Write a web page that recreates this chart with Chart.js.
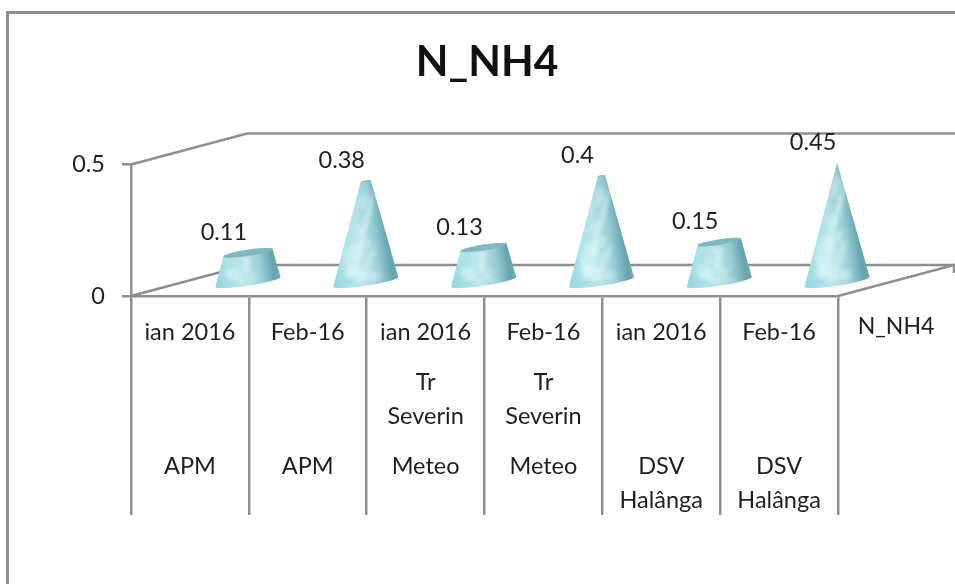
<!DOCTYPE html>
<html>
<head>
<meta charset="utf-8">
<style>html,body{margin:0;padding:0;background:#fff}canvas{display:block}</style>
<script src="https://cdn.jsdelivr.net/npm/chart.js@4"></script>
</head>
<body>
<canvas id="c" width="955" height="584"></canvas>
<script>
const chartTitle = 'N_NH4';
const seriesName = 'N_NH4';
const dates = ['ian 2016','Feb-16','ian 2016','Feb-16','ian 2016','Feb-16'];
const stationLine1 = ['','','Tr','Tr','',''];
const stationLine2 = ['','','Severin','Severin','',''];
const placeLine1 = ['APM','APM','Meteo','Meteo','DSV','DSV'];
const placeLine2 = ['','','','','Halânga','Halânga'];
const values = [0.11,0.38,0.13,0.4,0.15,0.45];
const yTicks = [0,0.5];

const FONT = 'Lato';
const TEXT = '#1f1f1f';
const LINE = '#8e8e8e';
const DX = 116, DY = -31;        // depth of the 3D box
const RX = 33, RY = 3.6;         // cone base ellipse
const ROT = -8.7*Math.PI/180;

const labels = dates.map((d,i)=>[d,'','',stationLine1[i],'',stationLine2[i],'','',placeLine1[i],'',placeLine2[i]]);

// soft highlights on the cone surface: [fraction across, fraction up, radius x, radius y, alpha]
const marks = [
  [-0.45,0.25,0.30,0.16,0.5],[-0.05,0.55,0.10,0.34,0.7],[-0.3,0.08,0.35,0.08,0.6],
  [0.1,0.2,0.16,0.12,0.35],[-0.15,0.8,0.25,0.09,0.4],[0.25,0.06,0.2,0.05,0.4],
  [0.05,0.38,0.14,0.06,0.45],[-0.35,0.5,0.16,0.07,0.35],[0.3,0.3,0.1,0.07,0.3]
];

const cone3d = {
  id:'cone3d',
  beforeDatasetsDraw(chart){
    const {ctx,scales:{x,y}} = chart;
    const x0=x.left,x1=x.right,y0=y.getPixelForValue(0),yT=y.getPixelForValue(0.5);
    ctx.save();
    // outer frame
    ctx.strokeStyle='#8f8f8f';ctx.lineWidth=3;
    ctx.beginPath();ctx.moveTo(7.5,584);ctx.lineTo(7.5,12.5);ctx.lineTo(955,12.5);ctx.stroke();
    // walls & floor
    ctx.strokeStyle=LINE;ctx.lineWidth=2.5;
    ctx.beginPath();
    ctx.moveTo(x0,yT);ctx.lineTo(x0+DX,yT+DY);ctx.lineTo(955,yT+DY);
    ctx.moveTo(x0,y0);ctx.lineTo(x0+DX,y0+DY);ctx.lineTo(x1+DX,y0+DY);
    ctx.moveTo(x1,y0);ctx.lineTo(x1+DX,y0+DY);ctx.lineTo(x1+DX,y0+DY+8);
    ctx.stroke();
    ctx.restore();
  },
  afterDatasetsDraw(chart){
    const {ctx,scales:{y}} = chart;
    const meta = chart.getDatasetMeta(0);
    const vals = chart.data.datasets[0].data;
    const maxV = Math.max(...vals);
    const y0 = y.getPixelForValue(0);
    meta.data.forEach((bar,i)=>{
      const v = vals[i];
      const bx = bar.x + DX/2, by = y0 + DY/2 + 1.5;
      const coneH = (y0 - bar.y)*1.01;
      const tx = bx, ty = by - coneH;
      const k = 1 - v/maxV;
      const tr = RX*k, trY = Math.max(RY*k*1.15, 0);
      const path = new Path2D();
      path.ellipse(bx,by,RX,RY,ROT,0,Math.PI,false);
      if(k>0) path.ellipse(tx,ty,tr,trY,ROT,Math.PI,2*Math.PI,false);
      else path.lineTo(tx,ty);
      path.closePath();
      ctx.save();
      const g = ctx.createLinearGradient(bx-RX,by,bx+RX,by-10);
      g.addColorStop(0,'#93d6de');g.addColorStop(0.22,'#aee3e9');g.addColorStop(0.5,'#b6e2e7');
      g.addColorStop(0.72,'#97ccd4');g.addColorStop(0.9,'#66a4b1');g.addColorStop(1,'#74aeba');
      ctx.fillStyle=g;ctx.fill(path);
      ctx.clip(path);
      ctx.filter='blur(2px)';
      marks.forEach(m=>{
        const up = m[1];
        const w = RX*(1-up*v/maxV);
        ctx.fillStyle='rgba(225,250,252,'+m[4]+')';
        ctx.beginPath();
        ctx.ellipse(bx+m[0]*w, by-up*coneH, Math.max(1.5,RX*m[2]*(1-up*0.6)), Math.max(1.5,coneH*m[3]), 0.25, 0, 2*Math.PI);
        ctx.fill();
      });
      ctx.fillStyle='rgba(150,215,225,0.5)';
      ctx.beginPath();ctx.ellipse(bx-RX*0.6,by+1,RX*0.35,3,ROT,0,2*Math.PI);ctx.fill();
      ctx.filter='none';
      ctx.restore();
      if(k>0){
        ctx.fillStyle='#7fb8c1';
        ctx.beginPath();ctx.ellipse(tx,ty,tr,trY,ROT,0,2*Math.PI);ctx.fill();
      }
      // value label
      ctx.save();
      ctx.font='23.5px '+FONT;ctx.fillStyle=TEXT;ctx.textAlign='center';ctx.textBaseline='middle';
      ctx.fillText(String(v),bx-24,ty-20.5);
      ctx.restore();
    });
    // series (depth axis) label
    ctx.save();
    ctx.font='23px '+FONT;ctx.fillStyle=TEXT;ctx.textAlign='center';ctx.textBaseline='middle';
    ctx.fillText(seriesName,896,y0+31);
    ctx.restore();
  }
};

new Chart(document.getElementById('c'),{
  type:'bar',
  data:{labels,datasets:[{label:seriesName,data:values,backgroundColor:'rgba(0,0,0,0)',borderWidth:0}]},
  plugins:[cone3d],
  options:{
    responsive:false,animation:false,
    layout:{padding:{left:19,right:0,top:37,bottom:68}},
    plugins:{
      legend:{display:false},tooltip:{enabled:false},
      title:{display:true,text:chartTitle,color:'#111',font:{family:FONT,size:42.5,weight:'bold',lineHeight:1},padding:{top:4,bottom:81}}
    },
    scales:{
      x:{
        type:'category',offset:true,
        grid:{drawOnChartArea:false,drawTicks:true,tickLength:219,color:LINE,lineWidth:2.5},
        border:{display:true,color:LINE,width:2.5},
        ticks:{autoSkip:false,maxRotation:0,minRotation:0,color:TEXT,padding:-191,font:{family:FONT,size:23.5,lineHeight:'16.8px'}},
        afterFit(s){s.height=220;}
      },
      y:{
        type:'linear',min:0,max:0.5,position:'left',
        afterBuildTicks(s){s.ticks=yTicks.map(v=>({value:v}));},
        grid:{drawOnChartArea:false,tickLength:9,color:LINE,lineWidth:2.5},
        border:{display:true,color:LINE,width:2.5},
        ticks:{color:TEXT,padding:17,font:{family:FONT,size:23.5},callback:v=>String(v)},
        afterFit(s){s.width=112;}
      },
      yr:{
        type:'linear',position:'right',min:0,max:0.5,
        grid:{display:false},border:{display:false},ticks:{display:false},
        afterFit(s){s.width=117;}
      }
    }
  }
});
</script>
</body>
</html>
